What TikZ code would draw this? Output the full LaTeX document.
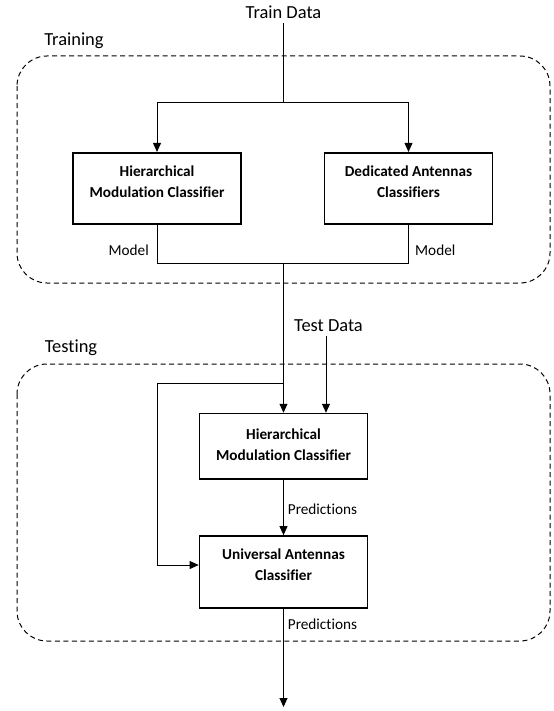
\documentclass[tikz,border=0pt]{standalone}
\usepackage{fontspec}
\setmainfont{Carlito}[Ligatures={NoCommon,NoRare,NoContextual}]
\usetikzlibrary{arrows.meta}
\begin{document}
\begin{tikzpicture}[x=1bp,y=-1bp,
  box/.style={draw, line width=1.7bp, minimum width=168bp, inner sep=0},
  boxtext/.style={font=\fontsize{15.3}{21.6}\selectfont\bfseries, align=center, inner sep=0},
  lbl/.style={font=\fontsize{15.3}{18}\selectfont, inner sep=0},
  big/.style={font=\fontsize{18.5}{22}\selectfont, inner sep=0},
  conn/.style={line width=0.9bp},
  arr/.style={conn, -{Triangle[length=9bp,width=8bp]}},
  group/.style={draw, dash pattern=on 5bp off 3.5bp, line width=1bp, rounded corners=30bp}]
\useasboundingbox (0,0) rectangle (554,711);
% groups
\draw[group] (17,56) rectangle (550,283);
\draw[group] (17,364) rectangle (550,641);
\node[big] (training) at (74,41) {Training};
\node[big] (testing) at (71,348) {Testing};
% top labels
\node[big, inner ysep=4bp] (train) at (283.5,12) {Train Data};
\node[big, inner ysep=4bp] (test) at (328.5,325.6) {Test Data};
% boxes
\node[box, minimum height=71.3bp] (b1) at (157,188.4) {};
\node[box, minimum height=71.3bp] (b2) at (408.5,188.4) {};
\node[box, minimum height=65.4bp] (b3) at (283.5,446.3) {};
\node[box, minimum height=72bp] (b4) at (283.5,572) {};
\node[boxtext] (t1) at ([yshift=-29.8bp]b1.north) {Hierarchical\\Modulation Classifier};
\node[boxtext] (t2) at ([yshift=-29.8bp]b2.north) {Dedicated Antennas\\Classifiers};
\node[boxtext] (t3) at ([yshift=-32bp]b3.north) {Hierarchical\\Modulation Classifier};
\node[boxtext] (t4) at ([yshift=-29.5bp]b4.north) {Universal Antennas\\Classifier};
% coordinates
\coordinate (split) at (283.5,102);
\coordinate (merge) at (283.5,263);
\coordinate (fbstart) at (283.5,383.5);
\coordinate (fbcorner) at (157,383.5);
\coordinate (tin) at ([xshift=42.5bp]b3.north);
\coordinate (out) at (283.5,707);
% connectors
\draw[conn] (train.south) -- (split);
\draw[arr] (split) -| (b1.north);
\draw[arr] (split) -| (b2.north);
\draw[conn] (b1.south) |- (merge);
\draw[conn] (b2.south) |- (merge);
\draw[arr] (merge) -- (b3.north);
\draw[arr] (test.south -| tin) -- (tin);
\draw[arr] (fbstart) -- (fbcorner) |- ([yshift=7bp]b4.west);
\draw[arr] (b3.south) -- (b4.north);
\draw[arr] (b4.south) -- (out);
% labels
\node[lbl, anchor=east] (m1) at (149,250) {Model};
\node[lbl, anchor=west] (m2) at (415,250) {Model};
\node[lbl, anchor=west] (p1) at (287.7,509) {Predictions};
\node[lbl, anchor=west] (p2) at (287.7,624) {Predictions};
\end{tikzpicture}
\end{document}
